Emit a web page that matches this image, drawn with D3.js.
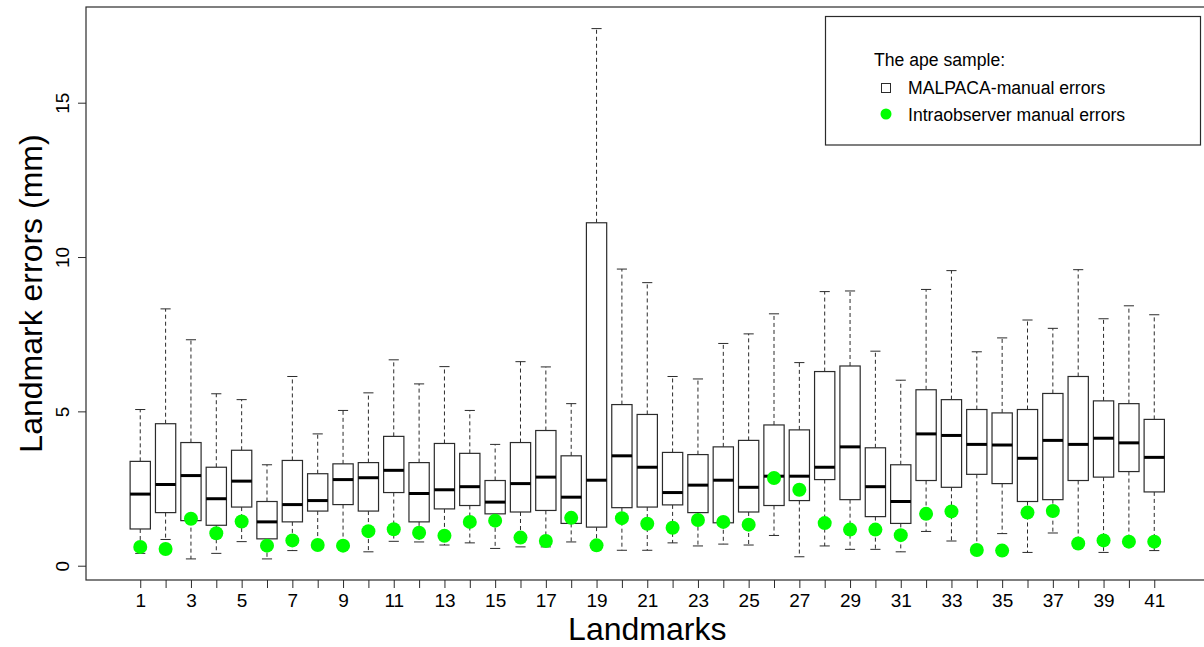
<!DOCTYPE html>
<html>
<head>
<meta charset="utf-8">
<script src="https://cdn.jsdelivr.net/npm/d3@7"></script>
<style>
  html, body { margin: 0; padding: 0; background: #fff; }
  svg { display: block; font-family: "Liberation Sans", Arial, sans-serif; }
</style>
</head>
<body>
<svg id="chart" width="1204" height="647"></svg>
<script>
// Landmark indices
const landmarks = d3.range(1, 42);

// MALPACA-manual error distributions (mm) per landmark
const whiskerLow  = [0.40,0.85,0.22,0.40,0.78,0.22,0.49,0.65,0.61,0.45,
                     0.79,0.77,0.67,0.74,0.56,0.61,0.61,0.77,0.62,0.50,
                     0.50,0.74,0.64,0.70,0.67,0.98,0.29,0.64,0.53,0.53,
                     0.45,1.11,0.80,0.51,1.04,0.43,1.06,0.72,0.43,0.78,0.49];
const q1          = [1.19,1.72,1.46,1.31,1.90,0.87,1.42,1.77,1.98,1.77,
                     2.37,1.42,1.84,1.95,1.68,1.74,1.79,1.37,1.25,1.88,
                     1.90,1.97,1.72,1.39,1.74,1.95,2.11,2.79,2.14,1.59,
                     1.37,2.76,2.54,2.96,2.66,2.08,2.14,2.76,2.87,3.05,2.39];
const median      = [2.32,2.63,2.92,2.17,2.74,1.42,1.98,2.11,2.79,2.85,
                     3.09,2.34,2.46,2.56,2.06,2.66,2.87,2.22,2.77,3.56,
                     3.19,2.37,2.61,2.77,2.54,2.90,2.90,3.19,3.85,2.56,
                     2.08,4.27,4.22,3.93,3.91,3.48,4.06,3.93,4.13,3.98,3.51];
const q3          = [3.38,4.60,3.99,3.19,3.74,2.08,3.41,2.98,3.30,3.34,
                     4.19,3.34,3.96,3.64,2.76,3.99,4.38,3.56,11.11,5.22,
                     4.90,3.67,3.60,3.85,4.06,4.56,4.40,6.29,6.47,3.82,
                     3.27,5.70,5.38,5.06,4.95,5.06,5.58,6.13,5.34,5.25,4.74];
const whiskerHigh = [5.06,8.32,7.32,5.57,5.38,3.27,6.13,4.27,5.03,5.60,
                     6.67,5.89,6.45,5.03,3.93,6.61,6.44,5.25,17.40,9.61,
                     9.17,6.13,6.05,7.20,7.51,8.16,6.58,8.88,8.90,6.95,
                     6.01,8.95,9.56,6.93,7.38,7.96,7.69,9.59,8.00,8.42,8.13];

// Intraobserver manual errors (mm) per landmark
const intraobserver = [0.61,0.54,1.52,1.05,1.43,0.65,0.82,0.67,0.65,1.12,
                       1.18,1.07,0.97,1.42,1.46,0.91,0.80,1.55,0.66,1.54,
                       1.36,1.23,1.48,1.42,1.33,2.84,2.46,1.38,1.17,1.17,
                       0.99,1.68,1.76,0.51,0.49,1.72,1.77,0.72,0.82,0.78,0.78];

// Axis tick values and labels
const yTicks = [0, 5, 10, 15];
const xTickLabels = landmarks.filter(d => d % 2 === 1);

const legendTitle = "The ape sample:";
const legendItems = ["MALPACA-manual errors", "Intraobserver manual errors"];

const boxes = landmarks.map((lm, i) => ({
  lm, lo: whiskerLow[i], q1: q1[i], med: median[i], q3: q3[i], hi: whiskerHigh[i]
}));

const svg = d3.select("#chart");
const plot = { left: 86, top: 7, bottom: 580, right: 1208.5 };

const x = d3.scaleLinear().domain([-1.14, 43.14]).range([plot.left, plot.right]);
const y = d3.scaleLinear().domain([-0.463, 18.10]).range([plot.bottom, plot.top]);

const unit = x(1) - x(0);
const boxW = 0.8 * unit;
const capW = 0.5 * boxW;
const ink = "#2b2b2b";

// Boxplots
const g = svg.append("g");
const bx = g.selectAll("g.box").data(boxes).join("g").attr("class", "box");

// whiskers (dashed)
bx.append("line")
  .attr("x1", d => x(d.lm)).attr("x2", d => x(d.lm))
  .attr("y1", d => y(d.q3)).attr("y2", d => y(d.hi))
  .attr("stroke", ink).attr("stroke-width", 1).attr("stroke-dasharray", "4,3");
bx.append("line")
  .attr("x1", d => x(d.lm)).attr("x2", d => x(d.lm))
  .attr("y1", d => y(d.q1)).attr("y2", d => y(d.lo))
  .attr("stroke", ink).attr("stroke-width", 1).attr("stroke-dasharray", "4,3");
// staples
bx.append("line")
  .attr("x1", d => x(d.lm) - capW / 2).attr("x2", d => x(d.lm) + capW / 2)
  .attr("y1", d => y(d.hi)).attr("y2", d => y(d.hi))
  .attr("stroke", ink).attr("stroke-width", 1);
bx.append("line")
  .attr("x1", d => x(d.lm) - capW / 2).attr("x2", d => x(d.lm) + capW / 2)
  .attr("y1", d => y(d.lo)).attr("y2", d => y(d.lo))
  .attr("stroke", ink).attr("stroke-width", 1);
// box
bx.append("rect")
  .attr("x", d => x(d.lm) - boxW / 2).attr("width", boxW)
  .attr("y", d => y(d.q3)).attr("height", d => y(d.q1) - y(d.q3))
  .attr("fill", "#fff").attr("stroke", ink).attr("stroke-width", 1.2);
// median
bx.append("line")
  .attr("x1", d => x(d.lm) - boxW / 2).attr("x2", d => x(d.lm) + boxW / 2)
  .attr("y1", d => y(d.med)).attr("y2", d => y(d.med))
  .attr("stroke", "#000").attr("stroke-width", 3);

// Intraobserver points
g.selectAll("circle.intra").data(landmarks).join("circle")
  .attr("class", "intra")
  .attr("cx", d => x(d)).attr("cy", (d, i) => y(intraobserver[i]))
  .attr("r", 7).attr("fill", "#00ff00");

// Frame
svg.append("rect")
  .attr("x", plot.left).attr("y", plot.top)
  .attr("width", plot.right - plot.left).attr("height", plot.bottom - plot.top)
  .attr("fill", "none").attr("stroke", ink).attr("stroke-width", 1.2);

// X axis
const xAxis = d3.axisBottom(x).tickValues(landmarks).tickSize(8).tickPadding(6)
  .tickFormat(d => (xTickLabels.includes(d) ? String(d) : ""));
const gx = svg.append("g").attr("transform", `translate(0,${plot.bottom})`).call(xAxis);
gx.select(".domain").remove();
gx.selectAll(".tick line").attr("stroke", ink);
gx.selectAll(".tick text").attr("font-size", 19).attr("fill", "#000")
  .attr("font-family", "Liberation Sans, Arial, sans-serif").attr("dy", "0.71em");

// Y axis
const yAxis = d3.axisLeft(y).tickValues(yTicks).tickSize(8).tickFormat(d3.format("d"));
const gy = svg.append("g").attr("transform", `translate(${plot.left},0)`).call(yAxis);
gy.select(".domain").remove();
gy.selectAll(".tick line").attr("stroke", ink);
gy.selectAll(".tick text")
  .attr("font-size", 19).attr("fill", "#000")
  .attr("font-family", "Liberation Sans, Arial, sans-serif")
  .attr("x", null).attr("dy", null)
  .attr("text-anchor", "middle")
  .attr("transform", "translate(-17,0) rotate(-90)");

// Axis titles
svg.append("text")
  .attr("x", (x(1) + x(41)) / 2).attr("y", 639.5)
  .attr("text-anchor", "middle").attr("font-size", 32).attr("fill", "#000")
  .text("Landmarks");
svg.append("text")
  .attr("transform", `translate(42,${(plot.top + plot.bottom) / 2}) rotate(-90)`)
  .attr("text-anchor", "middle").attr("font-size", 32).attr("fill", "#000")
  .text("Landmark errors (mm)");

// Legend
const lg = svg.append("g");
lg.append("rect")
  .attr("x", 825.5).attr("y", 16.5).attr("width", 375).attr("height", 128.5)
  .attr("fill", "#fff").attr("stroke", ink).attr("stroke-width", 1.2);
lg.append("text").attr("x", 874).attr("y", 66)
  .attr("font-size", 17.6).attr("fill", "#000").text(legendTitle);
lg.append("rect").attr("x", 881.5).attr("y", 83.5).attr("width", 9).attr("height", 9)
  .attr("fill", "#fff").attr("stroke", ink).attr("stroke-width", 1);
lg.append("circle").attr("cx", 886).attr("cy", 114).attr("r", 5.5).attr("fill", "#00ff00");
lg.selectAll("text.item").data(legendItems).join("text")
  .attr("class", "item")
  .attr("x", 908).attr("y", (d, i) => 94 + i * 26.5)
  .attr("font-size", 17.6).attr("fill", "#000").text(d => d);
</script>
</body>
</html>
